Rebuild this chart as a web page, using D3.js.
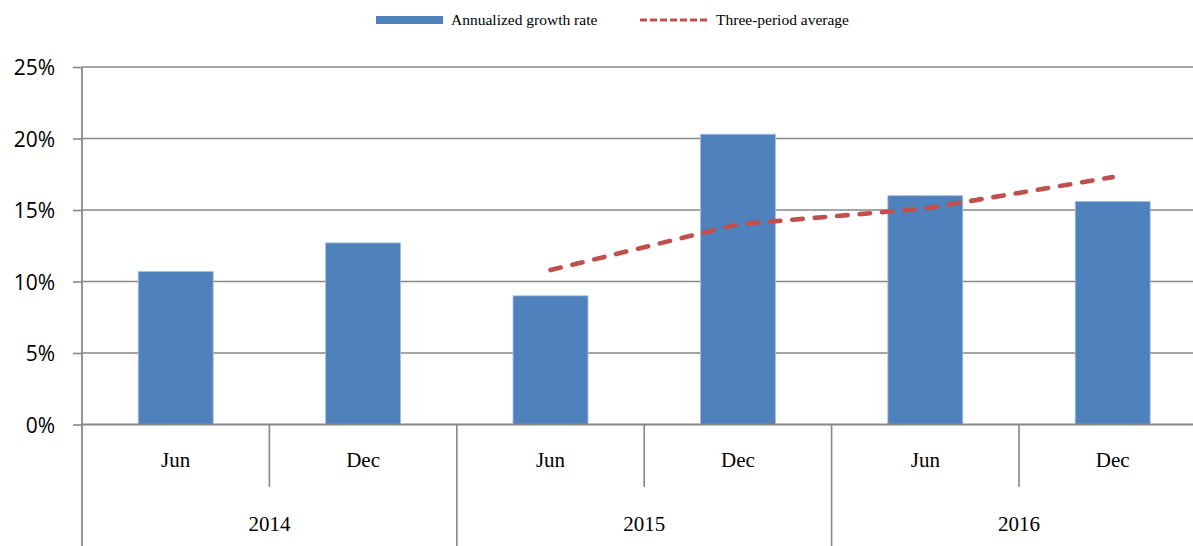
<!DOCTYPE html>
<html>
<head>
<meta charset="utf-8">
<script src="https://cdn.jsdelivr.net/npm/d3@7"></script>
<style>
  html, body { margin: 0; padding: 0; background: #fff; }
  svg { display: block; }
</style>
</head>
<body>
<svg id="chart" width="1193" height="546"></svg>
<script>
// Half-year periods, grouped by year
const periods = ["Jun", "Dec", "Jun", "Dec", "Jun", "Dec"];
const years = ["2014", "2015", "2016"];
// Annualized growth rate (%) per period
const growth = [10.7, 12.7, 9.0, 20.3, 16.0, 15.6];
// Three-period trailing average (%), undefined until three periods exist
const average = [null, null, 10.8, 14.0, 15.1, 17.3];
const yTicks = [0, 5, 10, 15, 20, 25];

(function draw() {
  const svg = d3.select("#chart");
  const gridColor = "#878787";
  const barColor = "#4F81BD";
  const lineColor = "#C0504D";

  const plotLeft = 82, plotRight = 1206.4, plotTop = 67, plotBottom = 424.5;
  const keys = periods.map((p, i) => i);

  const x = d3.scaleBand()
    .domain(keys)
    .range([plotLeft, plotRight])
    .paddingInner(0.6)
    .paddingOuter(0.3);
  const step = x.step();
  const slotStart = i => plotLeft + i * step;

  const y = d3.scaleLinear().domain([0, 25]).range([plotBottom, plotTop]);

  // Horizontal gridlines
  svg.append("g")
    .selectAll("line")
    .data(yTicks.filter(t => t > 0))
    .join("line")
    .attr("x1", plotLeft).attr("x2", plotRight)
    .attr("y1", d => y(d)).attr("y2", d => y(d))
    .attr("stroke", gridColor).attr("stroke-width", 1.6);

  // Y axis
  const yAxis = d3.axisLeft(y)
    .tickValues(yTicks)
    .tickSize(9)
    .tickFormat(d => d + "%");
  const gy = svg.append("g").attr("transform", `translate(${plotLeft},0)`).call(yAxis);
  gy.select(".domain").remove();
  gy.selectAll(".tick line").attr("stroke", gridColor).attr("stroke-width", 1.6);
  gy.selectAll(".tick text")
    .attr("fill", "#000")
    .style("font-family", "'Open Sans', 'Liberation Sans', sans-serif")
    .style("font-size", "21px")
    .attr("dy", "0.36em")
    .attr("x", -27);
  svg.append("line")
    .attr("x1", plotLeft).attr("x2", plotLeft)
    .attr("y1", y(25)).attr("y2", 546)
    .attr("stroke", gridColor).attr("stroke-width", 1.8);

  // Bars
  svg.append("g")
    .selectAll("rect")
    .data(growth)
    .join("rect")
    .attr("x", (d, i) => x(i))
    .attr("width", x.bandwidth())
    .attr("y", d => y(d))
    .attr("height", d => y(0) - y(d))
    .attr("fill", barColor)
    .attr("stroke", "#A9C1DF")
    .attr("stroke-width", 0.8);

  // Category axis baseline
  svg.append("line")
    .attr("x1", plotLeft).attr("x2", plotRight)
    .attr("y1", y(0)).attr("y2", y(0))
    .attr("stroke", gridColor).attr("stroke-width", 1.8);

  // Separators between months within a year
  const monthSep = [1, 3, 5];
  svg.append("g")
    .selectAll("line")
    .data(monthSep)
    .join("line")
    .attr("x1", d => slotStart(d)).attr("x2", d => slotStart(d))
    .attr("y1", y(0)).attr("y2", 487)
    .attr("stroke", gridColor).attr("stroke-width", 1.6);

  // Separators between years
  const yearSep = [2, 4, 6];
  svg.append("g")
    .selectAll("line")
    .data(yearSep)
    .join("line")
    .attr("x1", d => slotStart(d)).attr("x2", d => slotStart(d))
    .attr("y1", y(0)).attr("y2", 546)
    .attr("stroke", gridColor).attr("stroke-width", 1.6);

  const serif = "'Liberation Serif', 'Times New Roman', serif";

  // Month labels
  svg.append("g")
    .selectAll("text")
    .data(periods)
    .join("text")
    .attr("x", (d, i) => x(i) + x.bandwidth() / 2)
    .attr("y", 467)
    .attr("text-anchor", "middle")
    .style("font-family", serif)
    .style("font-size", "21px")
    .text(d => d);

  // Year labels
  svg.append("g")
    .selectAll("text")
    .data(years)
    .join("text")
    .attr("x", (d, i) => slotStart(i * 2 + 1))
    .attr("y", 531)
    .attr("text-anchor", "middle")
    .style("font-family", serif)
    .style("font-size", "21px")
    .text(d => d);

  // Three-period average line
  const line = d3.line()
    .defined(d => d != null)
    .x((d, i) => x(i) + x.bandwidth() / 2)
    .y(d => y(d));
  svg.append("path")
    .datum(average)
    .attr("d", line)
    .attr("fill", "none")
    .attr("stroke", lineColor)
    .attr("stroke-width", 4.6)
    .attr("stroke-linecap", "round")
    .attr("stroke-dasharray", "10.5,12");

  // Legend
  const legend = svg.append("g");
  legend.append("rect")
    .attr("x", 376).attr("y", 16).attr("width", 67).attr("height", 8)
    .attr("fill", barColor);
  legend.append("text")
    .attr("x", 451).attr("y", 25)
    .style("font-family", serif).style("font-size", "15.5px")
    .text("Annualized growth rate");
  legend.append("line")
    .attr("x1", 640).attr("x2", 709).attr("y1", 20).attr("y2", 20)
    .attr("stroke", lineColor).attr("stroke-width", 3)
    .attr("stroke-dasharray", "7,3");
  legend.append("text")
    .attr("x", 716).attr("y", 25)
    .style("font-family", serif).style("font-size", "15.5px")
    .text("Three-period average");
})();
</script>
</body>
</html>
